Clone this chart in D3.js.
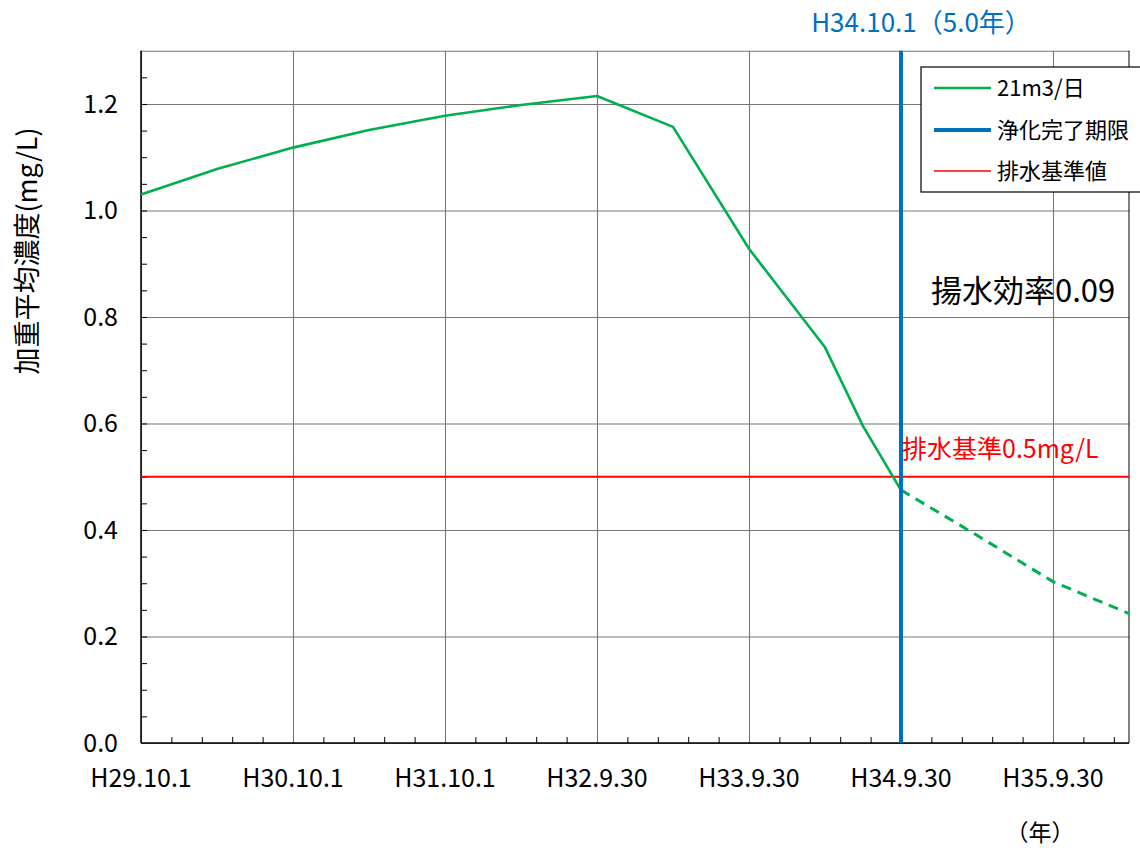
<!DOCTYPE html>
<html>
<head>
<meta charset="utf-8">
<script src="https://cdn.jsdelivr.net/npm/d3@7"></script>
<style>
  body { margin: 0; background: #fff; }
  svg { display: block; font-family: "Noto Sans CJK JP", "Noto Sans", sans-serif; }
  .grid line { stroke: #767676; stroke-width: 1.1; }
  .grid path { display: none; }
  .minor path { display: none; }
  .minor line { stroke: #000; }
  .ticklbl { font-size: 25px; fill: #000; }
</style>
</head>
<body>
<svg id="chart" width="1140" height="848"></svg>
<script>
// measured series (years from H29.10.1, mg/L)
const years = [0, 0.5, 1, 1.5, 2, 2.5, 3, 3.5, 4, 4.5, 4.75, 5];
const conc = [1.03, 1.078, 1.118, 1.151, 1.178, 1.198, 1.215, 1.157, 0.928, 0.743, 0.595, 0.475];
// projected part (dashed)
const predYears = [5, 5.5, 6, 6.5];
const predConc = [0.475, 0.39, 0.303, 0.243];

const xTickYears = [0, 1, 2, 3, 4, 5, 6];
const xTickLabels = ["H29.10.1", "H30.10.1", "H31.10.1", "H32.9.30", "H33.9.30", "H34.9.30", "H35.9.30"];
const yTicks = [0, 0.2, 0.4, 0.6, 0.8, 1.0, 1.2];

const limitYear = 5;
const limitLabel = "H34.10.1（5.0年）";
const standard = 0.5;
const standardLabel = "排水基準0.5mg/L";
const effLabel = "揚水効率0.09";
const legendNames = ["21m3/日", "浄化完了期限", "排水基準値"];

const GREEN = "#00b050", BLUE = "#0070c0", RED = "#ff0000";

const svg = d3.select("#chart");
const pLeft = 141, pRight = 1129, pTop = 50.7, pBottom = 743;

const x = d3.scaleLinear().domain([0, 6.5]).range([pLeft, pRight]);
const y = d3.scaleLinear().domain([0, 1.3]).range([pBottom, pTop]);

// gridlines
svg.append("g").attr("class", "grid")
  .attr("transform", `translate(0,${pBottom})`)
  .call(d3.axisBottom(x).tickValues(xTickYears).tickSize(-(pBottom - pTop)).tickFormat(""));
svg.append("g").attr("class", "grid")
  .attr("transform", `translate(${pLeft},0)`)
  .call(d3.axisLeft(y).tickValues(yTicks.concat([1.3])).tickSize(-(pRight - pLeft)).tickFormat(""));

// right border
svg.append("line").attr("x1", pRight).attr("x2", pRight).attr("y1", pTop).attr("y2", pBottom)
  .attr("stroke", "#000").attr("stroke-width", 1);

// minor ticks (inward)
const xMinor = d3.range(0, 6.5, 0.2).filter(v => Math.abs(v - Math.round(v)) > 0.01);
svg.append("g").attr("class", "minor")
  .attr("transform", `translate(0,${pBottom})`)
  .call(d3.axisBottom(x).tickValues(xMinor).tickSize(-6).tickFormat(""));
const yMinor = d3.range(0.05, 1.3, 0.05);
svg.append("g").attr("class", "minor")
  .attr("transform", `translate(${pLeft},0)`)
  .call(d3.axisLeft(y).tickValues(yMinor).tickSize(-6).tickFormat(""));

// axes lines
svg.append("line").attr("x1", pLeft).attr("x2", pLeft).attr("y1", pTop).attr("y2", pBottom)
  .attr("stroke", "#000").attr("stroke-width", 1.5);
svg.append("line").attr("x1", pLeft).attr("x2", pRight).attr("y1", pBottom).attr("y2", pBottom)
  .attr("stroke", "#000").attr("stroke-width", 1.5);

// tick labels
svg.append("g").selectAll("text").data(yTicks).join("text")
  .attr("class", "ticklbl")
  .attr("x", 118).attr("y", d => y(d)).attr("dy", "0.36em")
  .attr("text-anchor", "end")
  .text(d => d.toFixed(1));
svg.append("g").selectAll("text").data(xTickYears).join("text")
  .attr("class", "ticklbl")
  .attr("x", d => x(d)).attr("y", 787)
  .attr("text-anchor", "middle")
  .text((d, i) => xTickLabels[i]);

svg.append("text").attr("x", 1040).attr("y", 841).attr("text-anchor", "middle")
  .style("font-size", "23px").text("（年）");

// y label
svg.append("text")
  .attr("transform", `translate(37,251) rotate(-90)`)
  .attr("text-anchor", "middle")
  .style("font-size", "27px")
  .text("加重平均濃度(mg/L)");

// standard line
svg.append("line").attr("x1", pLeft).attr("x2", pRight)
  .attr("y1", y(standard)).attr("y2", y(standard))
  .attr("stroke", RED).attr("stroke-width", 2);

// series
const line = d3.line().x(d => x(d[0])).y(d => y(d[1]));
svg.append("path").datum(d3.zip(years, conc))
  .attr("d", line).attr("fill", "none")
  .attr("stroke", GREEN).attr("stroke-width", 2.6).attr("stroke-linejoin", "round");
svg.append("path").datum(d3.zip(predYears, predConc))
  .attr("d", line).attr("fill", "none")
  .attr("stroke", GREEN).attr("stroke-width", 3).attr("stroke-dasharray", "10,7");

// limit line
svg.append("line").attr("x1", x(limitYear)).attr("x2", x(limitYear))
  .attr("y1", pTop).attr("y2", pBottom)
  .attr("stroke", BLUE).attr("stroke-width", 4);

svg.append("text").attr("x", 921).attr("y", 32).attr("text-anchor", "middle")
  .style("font-size", "26px").attr("fill", BLUE).text(limitLabel);

svg.append("text").attr("x", 902).attr("y", 458)
  .style("font-size", "25px").attr("fill", RED).text(standardLabel);

svg.append("text").attr("x", 931).attr("y", 302)
  .style("font-size", "31px").attr("fill", "#000").text(effLabel);

// legend
const lg = svg.append("g");
lg.append("rect").attr("x", 921).attr("y", 67).attr("width", 240).attr("height", 125)
  .attr("fill", "#fff").attr("stroke", "#000").attr("stroke-width", 1.2);
const legendRows = [
  { name: legendNames[0], color: GREEN, w: 2.5, yy: 88 },
  { name: legendNames[1], color: BLUE, w: 4, yy: 130 },
  { name: legendNames[2], color: RED, w: 1.5, yy: 171 }
];
legendRows.forEach(r => {
  lg.append("line").attr("x1", 934).attr("x2", 991).attr("y1", r.yy).attr("y2", r.yy)
    .attr("stroke", r.color).attr("stroke-width", r.w);
  lg.append("text").attr("x", 997).attr("y", r.yy).attr("dy", "0.36em")
    .style("font-size", "22px").text(r.name);
});
</script>
</body>
</html>
